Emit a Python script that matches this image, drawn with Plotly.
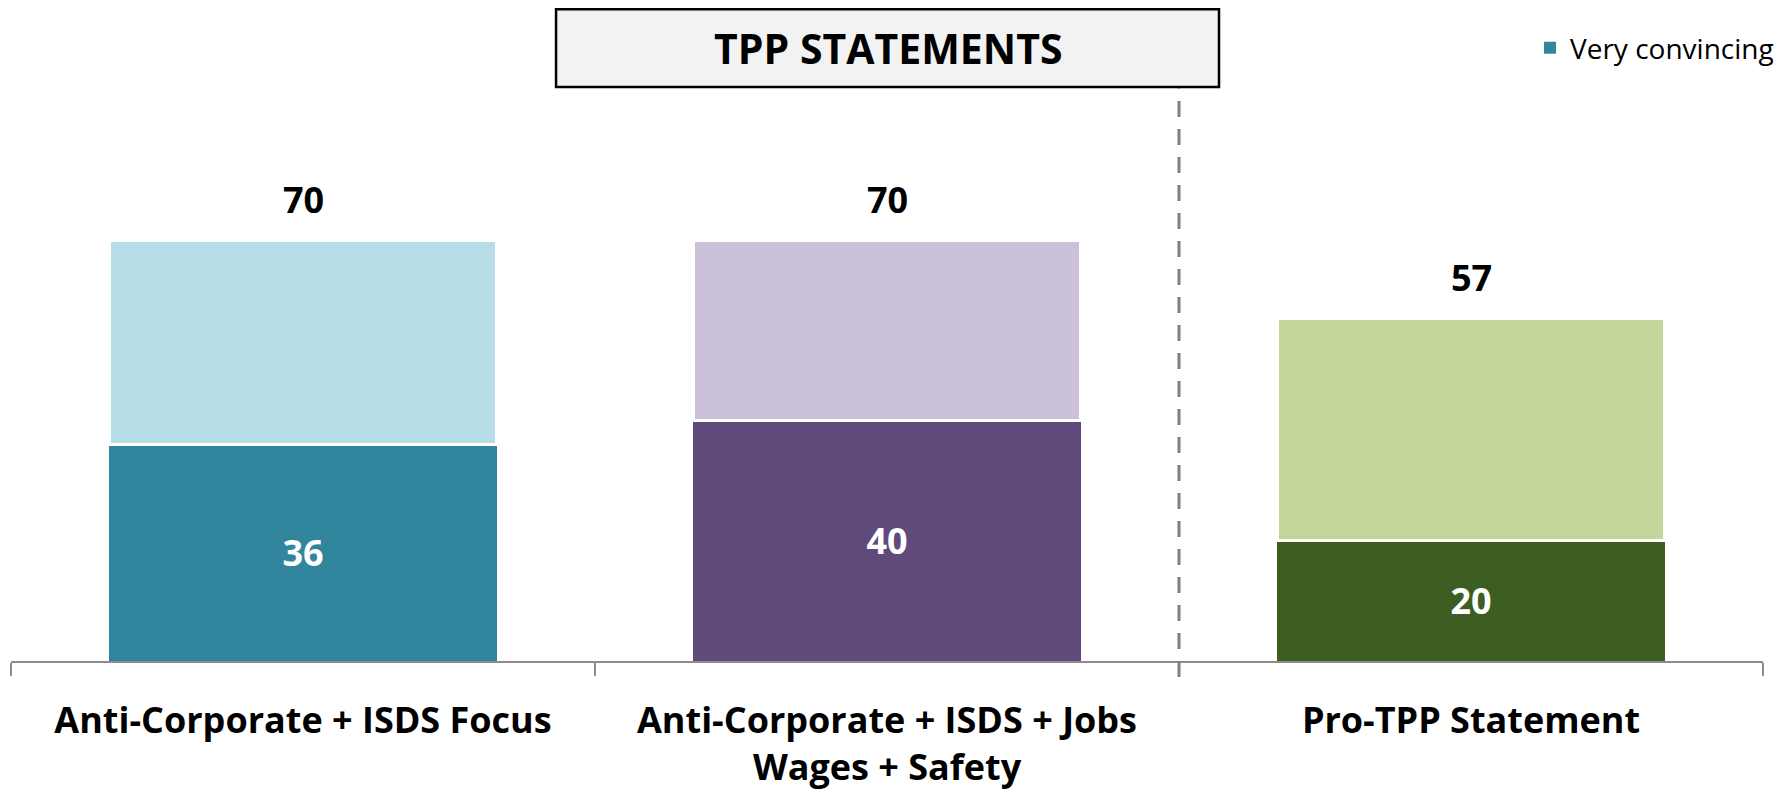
import plotly.graph_objects as go

# ---- data ----
categories = [
    "Anti-Corporate + ISDS Focus",
    "Anti-Corporate + ISDS + Jobs<br>Wages + Safety",
    "Pro-TPP Statement",
]
very_convincing = [36, 40, 20]
somewhat_convincing = [34, 30, 37]
totals = [70, 70, 57]

dark_colors = ["#31859C", "#604A7B", "#3D5E23"]
light_colors = ["#B7DEE8", "#CCC1DA", "#C4D79B"]

FONT = "Open Sans"

fig = go.Figure()
fig.add_trace(go.Bar(
    x=categories, y=very_convincing, name="Very convincing",
    marker=dict(color=dark_colors, line=dict(width=0)),
    text=[str(v) for v in very_convincing], textposition="inside",
    insidetextanchor="middle", textangle=0,
    textfont=dict(family=FONT, size=36, color="white", weight="bold"),
    showlegend=True, hoverinfo="skip",
))
fig.add_trace(go.Bar(
    x=categories, y=somewhat_convincing, name="Somewhat convincing",
    marker=dict(color=light_colors, line=dict(width=3, color="white")),
    showlegend=False, hoverinfo="skip",
))

for c, t in zip(categories, totals):
    fig.add_annotation(
        x=c, y=t, xref="x", yref="y", text=str(t), showarrow=False,
        yanchor="bottom", yshift=14,
        font=dict(family=FONT, size=36, color="black", weight="bold"),
    )

# title box
fig.add_shape(type="rect", xref="paper", yref="paper",
              x0=0.3111, x1=0.6895, y0=0.879, y1=0.998,
              line=dict(color="black", width=2.5), fillcolor="#F2F2F2", layer="above")
fig.add_annotation(x=0.5003, y=0.9395, xref="paper", yref="paper",
                   text="TPP STATEMENTS", showarrow=False,
                   xanchor="center", yanchor="middle",
                   font=dict(family=FONT, size=41, color="black", weight="bold"))

# dashed separator
fig.add_shape(type="line", xref="x", yref="paper", x0=1.5, x1=1.5,
              y0=-0.0245, y1=0.877,
              line=dict(color="#808080", width=3, dash="16px,12px"))

fig.update_layout(
    width=1782, height=782, autosize=False,
    margin=dict(l=3, r=27, t=0, b=129, autoexpand=False),
    barmode="stack", bargap=0.337,
    plot_bgcolor="white", paper_bgcolor="white",
    legend=dict(x=0.867, y=0.9387, xanchor="left", yanchor="middle",
                font=dict(family=FONT, size=28, color="black"),
                bgcolor="rgba(0,0,0,0)"),
    xaxis=dict(
        showline=True, linecolor="#8C8C8C", linewidth=2,
        ticks="outside", tickson="boundaries", ticklen=13,
        tickcolor="#8C8C8C", tickwidth=2,
        tickfont=dict(family=FONT, size=36, color="black", weight="bold"),
        ticklabelstandoff=27, automargin=False,
        showgrid=False, fixedrange=True,
    ),
    yaxis=dict(range=[0, 108.65], visible=False, showgrid=False, fixedrange=True),
)

fig.write_html("out.html")
